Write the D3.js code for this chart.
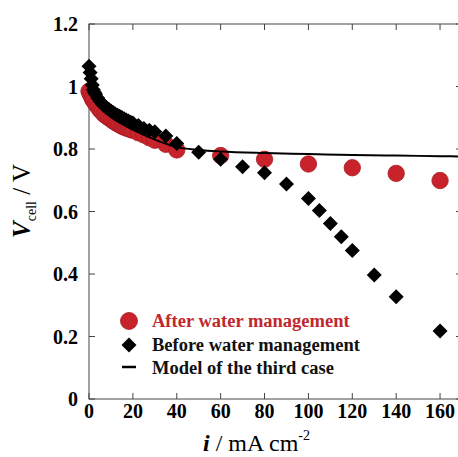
<!DOCTYPE html>
<html>
<head>
<meta charset="utf-8">
<script src="https://d3js.org/d3.v7.min.js"></script>
<style>
  body { margin: 0; background: #fff; }
  svg text { font-family: "Liberation Serif", "Times New Roman", serif; }
</style>
</head>
<body>
<div id="chart"></div>
<script>
// After water management (red circles)
var currentAfter = [0, 0.5, 1, 1.5, 2, 3, 4, 5, 6, 7, 8, 9, 10, 11, 12, 13, 14, 15, 16, 17, 18, 19, 20, 22.5, 25, 27.5, 30, 35, 40, 60, 80, 100, 120, 140, 160];
var voltageAfter = [0.985, 0.977, 0.97, 0.962, 0.955, 0.945, 0.935, 0.925, 0.918, 0.91, 0.905, 0.9, 0.895, 0.89, 0.885, 0.881, 0.877, 0.873, 0.87, 0.867, 0.865, 0.862, 0.86, 0.852, 0.845, 0.836, 0.828, 0.815, 0.797, 0.779, 0.767, 0.752, 0.74, 0.722, 0.699];

// Before water management (black diamonds)
var currentBefore = [0, 0.5, 1, 1.5, 2, 2.5, 3, 4, 5, 6, 7, 8, 9, 10, 11, 12, 13, 14, 15, 16, 17, 18, 19, 20, 22.5, 25, 27.5, 30, 35, 40, 50, 60, 70, 80, 90, 100, 105, 110, 115, 120, 130, 140, 160];
var voltageBefore = [1.065, 1.045, 1.025, 1.005, 0.99, 0.982, 0.975, 0.963, 0.953, 0.945, 0.938, 0.932, 0.927, 0.922, 0.917, 0.912, 0.908, 0.905, 0.901, 0.897, 0.893, 0.89, 0.886, 0.883, 0.875, 0.866, 0.86, 0.855, 0.842, 0.818, 0.79, 0.767, 0.743, 0.724, 0.688, 0.642, 0.603, 0.562, 0.519, 0.475, 0.397, 0.327, 0.218];

// Model of the third case (line)
var currentModel = [0, 1, 2, 5, 10, 20, 30, 40, 50, 60, 80, 100, 120, 140, 160, 170];
var voltageModel = [1.04, 1.0, 0.975, 0.94, 0.905, 0.862, 0.83, 0.806, 0.797, 0.792, 0.787, 0.784, 0.781, 0.779, 0.777, 0.776];

var xTicks = [0, 20, 40, 60, 80, 100, 120, 140, 160];
var yTicks = [0, 0.2, 0.4, 0.6, 0.8, 1, 1.2];
var legendLabels = ["After water management", "Before water management", "Model of the third case"];

var width = 458, height = 457;
var plotLeft = 89, plotRight = 462, plotTop = 24, plotBottom = 399;
var red = "#c8232b";

var svg = d3.select("#chart").append("svg")
  .attr("width", width)
  .attr("height", height);

var x = d3.scaleLinear().domain([0, 170]).range([plotLeft, plotRight]);
var y = d3.scaleLinear().domain([0, 1.2]).range([plotBottom, plotTop]);

// frame
svg.append("rect")
  .attr("x", plotLeft).attr("y", plotTop)
  .attr("width", plotRight - plotLeft).attr("height", plotBottom - plotTop)
  .attr("fill", "none").attr("stroke", "#444").attr("stroke-width", 1);

// ticks, inward on all sides
var tl = 6;
xTicks.forEach(function(t) {
  svg.append("line").attr("x1", x(t)).attr("x2", x(t)).attr("y1", plotBottom).attr("y2", plotBottom - tl).attr("stroke", "#444");
  svg.append("line").attr("x1", x(t)).attr("x2", x(t)).attr("y1", plotTop).attr("y2", plotTop + tl).attr("stroke", "#444");
});
yTicks.forEach(function(t) {
  svg.append("line").attr("x1", plotLeft).attr("x2", plotLeft + tl).attr("y1", y(t)).attr("y2", y(t)).attr("stroke", "#444");
  svg.append("line").attr("x1", plotRight).attr("x2", plotRight - tl).attr("y1", y(t)).attr("y2", y(t)).attr("stroke", "#444");
});

// tick labels
svg.selectAll(".xlab")
  .data(xTicks)
  .enter().append("text")
  .attr("x", function(d) { return x(d); })
  .attr("y", 418)
  .attr("text-anchor", "middle")
  .attr("font-size", 20).attr("font-weight", "bold")
  .text(function(d) { return d; });

svg.selectAll(".ylab")
  .data(yTicks)
  .enter().append("text")
  .attr("x", 78)
  .attr("y", function(d) { return y(d) + 7; })
  .attr("text-anchor", "end")
  .attr("font-size", 20).attr("font-weight", "bold")
  .text(function(d) { return d3.format("~g")(d); });

// axis titles
var xt = svg.append("text").attr("x", 203).attr("y", 451).attr("font-size", 24);
xt.append("tspan").attr("font-style", "italic").attr("font-weight", "bold").text("i");
xt.append("tspan").text(" / mA cm");
xt.append("tspan").attr("font-size", 14).attr("dy", -11).text("-2");

var yt = svg.append("text")
  .attr("transform", "translate(30,201) rotate(-90)")
  .attr("text-anchor", "middle")
  .attr("font-size", 25);
yt.append("tspan").attr("font-style", "italic").attr("font-weight", "bold").text("V");
yt.append("tspan").attr("font-size", 14).attr("dy", 6).text("cell");
yt.append("tspan").attr("dy", -6).text(" / V");

// diamond path
var diamond = function(cx, cy, h) {
  return "M" + cx + "," + (cy - h) + "L" + (cx + h) + "," + cy + "L" + cx + "," + (cy + h) + "L" + (cx - h) + "," + cy + "Z";
};

// red circles
svg.selectAll(".after")
  .data(d3.range(currentAfter.length))
  .enter().append("circle")
  .attr("cx", function(i) { return x(currentAfter[i]); })
  .attr("cy", function(i) { return y(voltageAfter[i]); })
  .attr("r", 8.2)
  .attr("fill", red)
  .attr("stroke", "#a81c22").attr("stroke-width", 0.8);

// black diamonds
svg.selectAll(".before")
  .data(d3.range(currentBefore.length))
  .enter().append("path")
  .attr("d", function(i) { return diamond(x(currentBefore[i]), y(voltageBefore[i]), 7.5); })
  .attr("fill", "#000");

// model line
var line = d3.line()
  .x(function(i) { return x(currentModel[i]); })
  .y(function(i) { return y(voltageModel[i]); })
  .curve(d3.curveMonotoneX);

svg.append("path")
  .datum(d3.range(currentModel.length))
  .attr("d", line)
  .attr("fill", "none")
  .attr("stroke", "#000")
  .attr("stroke-width", 2);

// legend
svg.append("circle").attr("cx", 129).attr("cy", 321).attr("r", 8.5).attr("fill", red).attr("stroke", "#a81c22").attr("stroke-width", 0.8);
svg.append("path").attr("d", diamond(129, 345, 7.5)).attr("fill", "#000");
svg.append("line").attr("x1", 122).attr("x2", 136).attr("y1", 367).attr("y2", 367).attr("stroke", "#000").attr("stroke-width", 2.5);

var legendY = [327, 351, 374];
svg.selectAll(".leg")
  .data(legendLabels)
  .enter().append("text")
  .attr("x", 152)
  .attr("y", function(d, i) { return legendY[i]; })
  .attr("font-size", 18.5).attr("font-weight", "bold")
  .attr("fill", function(d, i) { return i === 0 ? "#c0282e" : "#111"; })
  .text(function(d) { return d; });
</script>
</body>
</html>
